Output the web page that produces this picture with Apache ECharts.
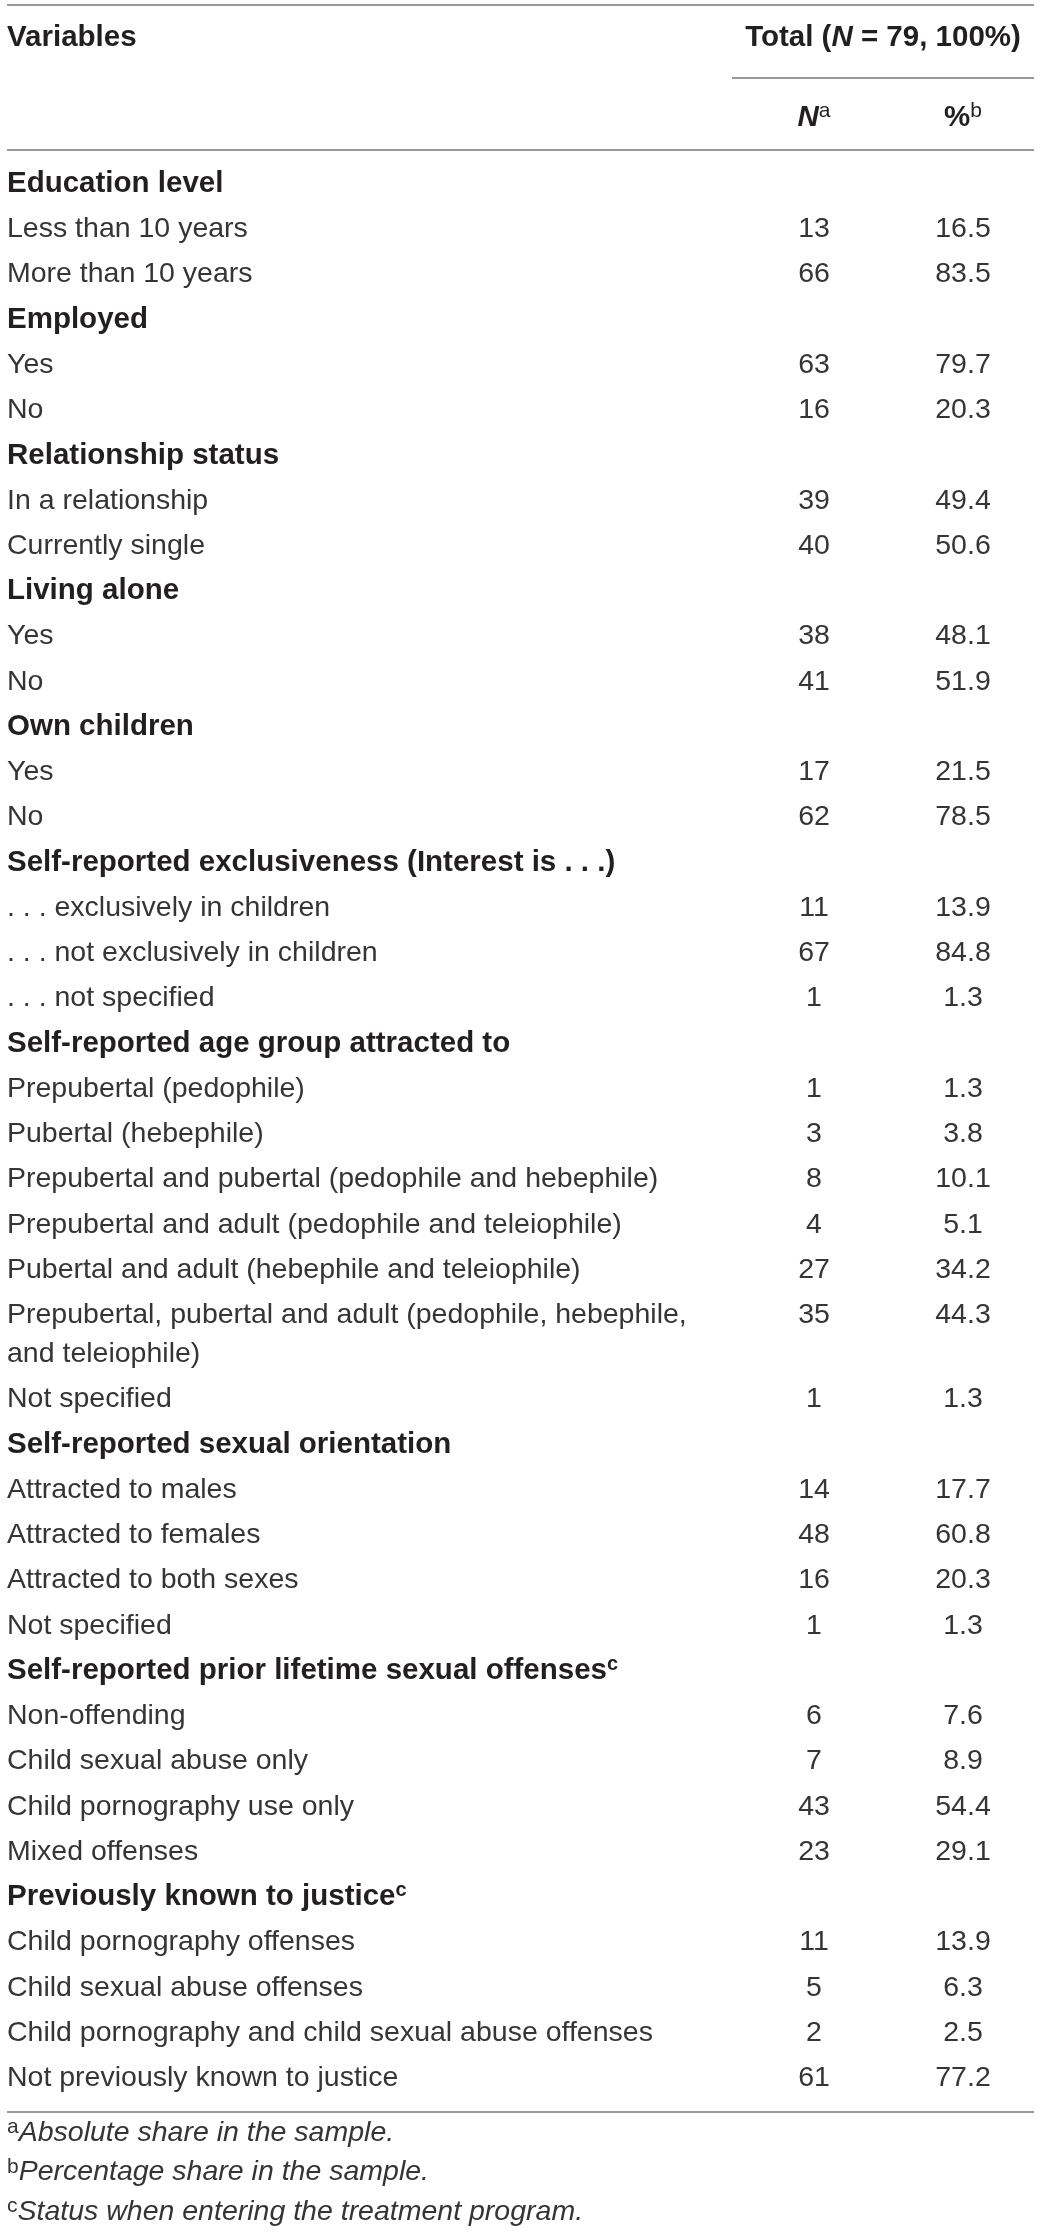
<!DOCTYPE html>
<html>
<head>
<meta charset="utf-8">
<script src="https://cdn.jsdelivr.net/npm/echarts@6/dist/echarts.min.js"></script>
<style>
  html, body { margin: 0; padding: 0; background: #ffffff; }
  #chart { width: 1040px; height: 2234px; }
</style>
</head>
<body>
<div id="chart"></div>
<script>
const groupTitles = [
  "Education level",
  "Employed",
  "Relationship status",
  "Living alone",
  "Own children",
  "Self-reported exclusiveness (Interest is . . .)",
  "Self-reported age group attracted to",
  "Self-reported sexual orientation",
  "Self-reported prior lifetime sexual offenses",
  "Previously known to justice",
];
const groupNotes = ["", "", "", "", "", "", "", "", "c", "c"];
const groupSizes = [2, 2, 2, 2, 2, 3, 7, 4, 4, 4];

const itemLabels = [
  "Less than 10 years", "More than 10 years",
  "Yes", "No",
  "In a relationship", "Currently single",
  "Yes", "No",
  "Yes", "No",
  ". . . exclusively in children", ". . . not exclusively in children", ". . . not specified",
  "Prepubertal (pedophile)", "Pubertal (hebephile)",
  "Prepubertal and pubertal (pedophile and hebephile)",
  "Prepubertal and adult (pedophile and teleiophile)",
  "Pubertal and adult (hebephile and teleiophile)",
  "Prepubertal, pubertal and adult (pedophile, hebephile,\nand teleiophile)",
  "Not specified",
  "Attracted to males", "Attracted to females", "Attracted to both sexes", "Not specified",
  "Non-offending", "Child sexual abuse only", "Child pornography use only", "Mixed offenses",
  "Child pornography offenses", "Child sexual abuse offenses",
  "Child pornography and child sexual abuse offenses", "Not previously known to justice",
];
const itemN = [13, 66, 63, 16, 39, 40, 38, 41, 17, 62, 11, 67, 1, 1, 3, 8, 4, 27, 35, 1, 14, 48, 16, 1, 6, 7, 43, 23, 11, 5, 2, 61];
const itemPct = [16.5, 83.5, 79.7, 20.3, 49.4, 50.6, 48.1, 51.9, 21.5, 78.5, 13.9, 84.8, 1.3, 1.3, 3.8, 10.1, 5.1, 34.2, 44.3, 1.3, 17.7, 60.8, 20.3, 1.3, 7.6, 8.9, 54.4, 29.1, 13.9, 6.3, 2.5, 77.2];

const footnoteMarks = ["a", "b", "c"];
const footnoteTexts = [
  "Absolute share in the sample.",
  "Percentage share in the sample.",
  "Status when entering the treatment program.",
];

const FONT = "Liberation Sans";
const INK = "#231f20";
const BODY = "#353535";
const RULE = "#777777";
const PITCH = 45.25;
const WRAP_GAP = 0.862;
const FIRST_ROW = 184;
const LEFT = 7;
const COL_N = 814;
const COL_PCT = 963;

// flatten groups + items into rows, each with a position in row units
const rows = [];
let pos = 0;
let k = 0;
groupTitles.forEach((title, g) => {
  rows.push({ kind: "group", lines: [title], note: groupNotes[g], y: pos });
  pos += 1;
  for (let j = 0; j < groupSizes[g]; j++, k++) {
    const lines = itemLabels[k].split("\n");
    rows.push({ kind: "item", lines: lines, n: String(itemN[k]), pct: itemPct[k].toFixed(1), y: pos });
    pos += 1 + (lines.length - 1) * WRAP_GAP;
  }
});
const lastY = rows[rows.length - 1].y;

const boldStyle = { fontFamily: FONT, fontSize: 29.5, fontWeight: "bold", fill: INK, lineHeight: 34 };
const bodyStyle = { fontFamily: FONT, fontSize: 28.5, fontWeight: "normal", fill: BODY };

function renderRow(params, api) {
  const row = rows[params.dataIndex];
  const yVal = api.value(1);
  const children = [];
  if (row.kind === "group") {
    const p = api.coord([LEFT, yVal]);
    const text = row.note ? "{t|" + row.lines[0] + "}{s|" + row.note + "}" : "{t|" + row.lines[0] + "}";
    children.push({
      type: "text",
      x: p[0],
      y: p[1],
      style: {
        text: text,
        align: "left",
        verticalAlign: "middle",
        rich: {
          t: boldStyle,
          s: { fontFamily: FONT, fontSize: 20, fontWeight: "bold", fill: INK, verticalAlign: "top", lineHeight: 20 },
        },
      },
    });
    return { type: "group", children: children };
  }
  row.lines.forEach((line, li) => {
    const p = api.coord([LEFT, yVal + li * WRAP_GAP]);
    children.push({
      type: "text",
      x: p[0],
      y: p[1],
      style: Object.assign({ text: line, align: "left", verticalAlign: "middle" }, bodyStyle),
    });
  });
  const pn = api.coord([COL_N, yVal]);
  const pp = api.coord([COL_PCT, yVal]);
  children.push({
    type: "text",
    x: pn[0],
    y: pn[1],
    style: Object.assign({ text: row.n, align: "center", verticalAlign: "middle" }, bodyStyle),
  });
  children.push({
    type: "text",
    x: pp[0],
    y: pp[1],
    style: Object.assign({ text: row.pct, align: "center", verticalAlign: "middle" }, bodyStyle),
  });
  return { type: "group", children: children };
}

const supStyle = { fontFamily: FONT, fontSize: 21, fontWeight: "normal", fill: INK, verticalAlign: "top", lineHeight: 21 };

function rule(x1, x2, y) {
  return {
    type: "line",
    shape: { x1: x1, y1: y, x2: x2, y2: y },
    style: { stroke: RULE, lineWidth: 1.5 },
    silent: true,
  };
}

function headerText(x, y, text, align, rich) {
  return {
    type: "text",
    x: x,
    y: y,
    style: { text: text, align: align, verticalAlign: "middle", rich: rich },
    silent: true,
  };
}

const graphics = [
  rule(7, 1034, 5),
  headerText(LEFT, 38, "{b|Variables}", "left", { b: boldStyle }),
  headerText(883, 38, "{b|Total (}{bi|N}{b| = 79, 100%)}", "center", {
    b: boldStyle,
    bi: Object.assign({}, boldStyle, { fontStyle: "italic" }),
  }),
  rule(732, 1034, 78),
  headerText(COL_N, 118, "{bi|N}{s|a}", "center", {
    bi: Object.assign({}, boldStyle, { fontStyle: "italic" }),
    s: supStyle,
  }),
  headerText(COL_PCT, 118, "{b|%}{s|b}", "center", { b: boldStyle, s: supStyle }),
  rule(7, 1034, 150),
  rule(7, 1034, 2112),
];
footnoteMarks.forEach((mark, i) => {
  graphics.push(
    headerText(LEFT, 2133 + i * 39.5, "{s|" + mark + "}{i|" + footnoteTexts[i] + "}", "left", {
      s: { fontFamily: FONT, fontSize: 21, fill: BODY, verticalAlign: "top", lineHeight: 21 },
      i: { fontFamily: FONT, fontSize: 28.5, fontStyle: "italic", fill: BODY, lineHeight: 32 },
    })
  );
});

const chart = echarts.init(document.getElementById("chart"));
chart.setOption({
  animation: false,
  backgroundColor: "#ffffff",
  grid: {
    left: 0,
    right: 0,
    top: FIRST_ROW - PITCH / 2,
    height: (lastY + 1) * PITCH,
  },
  xAxis: { type: "value", min: 0, max: 1040, show: false },
  yAxis: { type: "value", inverse: true, min: -0.5, max: lastY + 0.5, show: false },
  series: [
    {
      type: "custom",
      clip: false,
      silent: true,
      encode: { x: 0, y: 1 },
      data: rows.map((r) => [0, r.y]),
      renderItem: renderRow,
    },
  ],
  graphic: graphics,
});
</script>
</body>
</html>
